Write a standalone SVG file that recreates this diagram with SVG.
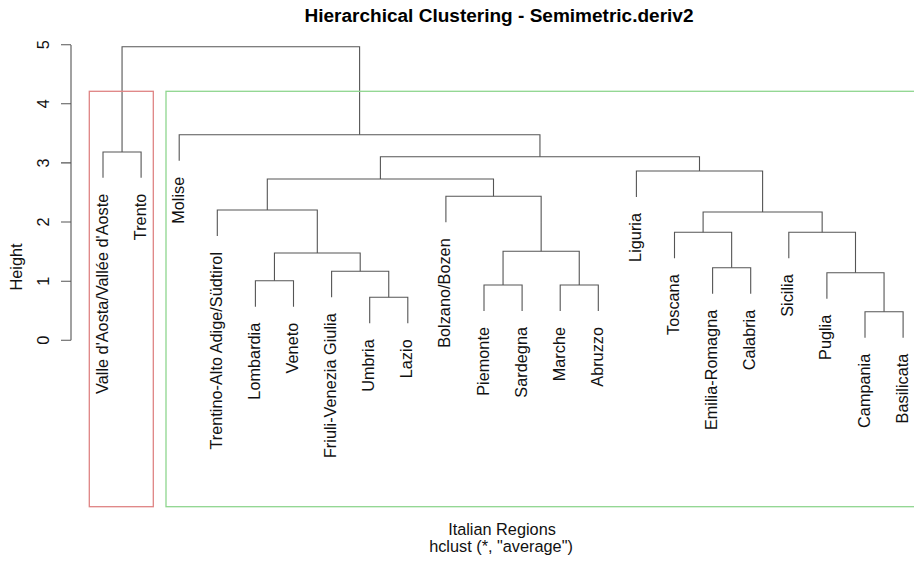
<svg xmlns="http://www.w3.org/2000/svg" width="914" height="561" viewBox="0 0 914 561">
<style>
.ln{fill:none;stroke:#555;stroke-width:1.1}
.lb{font-family:"Liberation Sans",Arial,sans-serif;font-size:16.3px;fill:#111;text-anchor:end}
.ax{font-family:"Liberation Sans",Arial,sans-serif;font-size:16.3px;fill:#111;text-anchor:middle}
.ttl{font-family:"Liberation Sans",Arial,sans-serif;font-size:18px;font-weight:bold;fill:#000;text-anchor:middle}
</style>
<rect width="914" height="561" fill="#fff"/>
<text class="ttl" x="499" y="22" textLength="389" lengthAdjust="spacingAndGlyphs">Hierarchical Clustering - Semimetric.deriv2</text>
<g id="axis">
<path class="ln" d="M71 340.3V45M61 340.3H71M61 281.2H71M61 222H71M61 162.9H71M61 103.8H71M61 44.7H71"/>
<text class="ax" transform="translate(48.5,340.3) rotate(-90)">0</text>
<text class="ax" transform="translate(48.5,281.2) rotate(-90)">1</text>
<text class="ax" transform="translate(48.5,222) rotate(-90)">2</text>
<text class="ax" transform="translate(48.5,162.9) rotate(-90)">3</text>
<text class="ax" transform="translate(48.5,103.8) rotate(-90)">4</text>
<text class="ax" transform="translate(48.5,44.7) rotate(-90)">5</text>
<text class="ax" transform="translate(22,267) rotate(-90)">Height</text>
</g>
<text class="ax" x="502" y="535">Italian Regions</text>
<text class="ax" x="501" y="552">hclust (*, "average")</text>
<g id="connectors">
<path class="ln" d="M122.05 152V46.7H359.6V134.7"/>
<path class="ln" d="M103 177.7V152H141.1V177.7"/>
<path class="ln" d="M179.2 160.7V134.7H539.95V156.7"/>
<path class="ln" d="M380.4 179V156.7H699.5V171"/>
<path class="ln" d="M267.3 210V179H493.5V196.3"/>
<path class="ln" d="M217.3 236V210H317.3V253"/>
<path class="ln" d="M274.45 280.7V253H360.2V271.3"/>
<path class="ln" d="M255.4 306.7V280.7H293.5V306.7"/>
<path class="ln" d="M331.6 297.3V271.3H388.75V297.3"/>
<path class="ln" d="M369.7 323.3V297.3H407.8V323.3"/>
<path class="ln" d="M445.9 222.3V196.3H541.15V251.3"/>
<path class="ln" d="M503.05 285V251.3H579.25V285"/>
<path class="ln" d="M484 311V285H522.1V311"/>
<path class="ln" d="M560.2 311V285H598.3V311"/>
<path class="ln" d="M636.4 197V171H762.6V212"/>
<path class="ln" d="M703.1 232.3V212H822.15V232.3"/>
<path class="ln" d="M674.5 258.3V232.3H731.65V267.7"/>
<path class="ln" d="M712.6 293.7V267.7H750.7V293.7"/>
<path class="ln" d="M788.8 258.3V232.3H855.5V272.7"/>
<path class="ln" d="M826.9 298.7V272.7H884.05V311.7"/>
<path class="ln" d="M865 337.7V311.7H903.1V337.7"/>
</g>
<g id="labels">
<g id="n-valle"><text class="lb" transform="translate(107.5,193.7) rotate(-90)">Valle d'Aosta/Vallée d'Aoste</text></g>
<g id="n-trento"><text class="lb" transform="translate(145.6,193.7) rotate(-90)">Trento</text></g>
<g id="n-molise"><text class="lb" transform="translate(183.7,176.7) rotate(-90)">Molise</text></g>
<g id="n-trentino"><text class="lb" transform="translate(221.8,252) rotate(-90)">Trentino-Alto Adige/Südtirol</text></g>
<g id="n-lombardia"><text class="lb" transform="translate(259.9,322.7) rotate(-90)">Lombardia</text></g>
<g id="n-veneto"><text class="lb" transform="translate(298,322.7) rotate(-90)">Veneto</text></g>
<g id="n-friuli"><text class="lb" transform="translate(336.1,313.3) rotate(-90)">Friuli-Venezia Giulia</text></g>
<g id="n-umbria"><text class="lb" transform="translate(374.2,339.3) rotate(-90)">Umbria</text></g>
<g id="n-lazio"><text class="lb" transform="translate(412.3,339.3) rotate(-90)">Lazio</text></g>
<g id="n-bolzano"><text class="lb" transform="translate(450.4,238.3) rotate(-90)">Bolzano/Bozen</text></g>
<g id="n-piemonte"><text class="lb" transform="translate(488.5,327) rotate(-90)">Piemonte</text></g>
<g id="n-sardegna"><text class="lb" transform="translate(526.6,327) rotate(-90)">Sardegna</text></g>
<g id="n-marche"><text class="lb" transform="translate(564.7,327) rotate(-90)">Marche</text></g>
<g id="n-abruzzo"><text class="lb" transform="translate(602.8,327) rotate(-90)">Abruzzo</text></g>
<g id="n-liguria"><text class="lb" transform="translate(640.9,213) rotate(-90)">Liguria</text></g>
<g id="n-toscana"><text class="lb" transform="translate(679,274.3) rotate(-90)">Toscana</text></g>
<g id="n-emilia"><text class="lb" transform="translate(717.1,309.7) rotate(-90)">Emilia-Romagna</text></g>
<g id="n-calabria"><text class="lb" transform="translate(755.2,309.7) rotate(-90)">Calabria</text></g>
<g id="n-sicilia"><text class="lb" transform="translate(793.3,274.3) rotate(-90)">Sicilia</text></g>
<g id="n-puglia"><text class="lb" transform="translate(831.4,314.7) rotate(-90)">Puglia</text></g>
<g id="n-campania"><text class="lb" transform="translate(869.5,353.7) rotate(-90)">Campania</text></g>
<g id="n-basilicata"><text class="lb" transform="translate(907.6,353.7) rotate(-90)">Basilicata</text></g>
</g>
<g id="clusters">
<rect x="89.3" y="91.3" width="64" height="415.4" fill="none" stroke="#df8484" stroke-width="1.3"/>
<rect x="166" y="91.3" width="760" height="415.4" fill="none" stroke="#8fd68f" stroke-width="1.3"/>
</g>
</svg>
